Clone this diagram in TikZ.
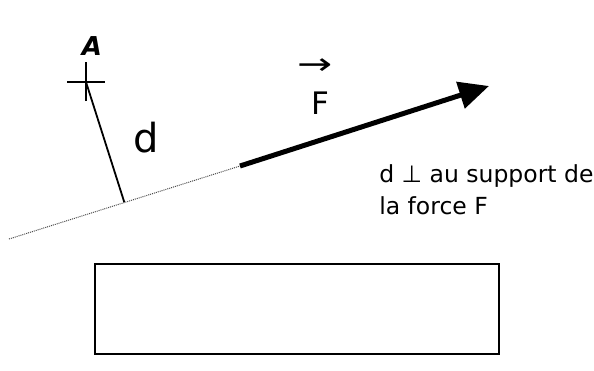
\documentclass[tikz,border=0pt]{standalone}
\usepackage{fontspec}
\setmainfont{DejaVu Sans}
\usetikzlibrary{arrows.meta,calc}

\begin{document}
\begin{tikzpicture}[x=1pt,y=-1pt,semithick]
		\tikzstyle{lab}=[inner sep=0pt,text=black]
		\tikzstyle{trait}=[line width=1.8pt]
		\tikzstyle{support}=[black!70,line width=1pt,dash pattern=on 1pt off 1pt]
		\tikzstyle{force}=[line width=5pt,-{Triangle[length=30pt,width=27pt]}]
		\useasboundingbox (0,0) rectangle (594,370);
		% points
		\coordinate (A) at (86,82);
		\coordinate (S) at (9,239);
		\coordinate (O) at (240,166);
		\coordinate (E) at (489,86);
		\coordinate (H) at ($(S)!(A)!(E)$);
		% labels
		\node[lab,font=\bfseries\itshape\fontsize{26}{26}\selectfont] (lA) at (92,46) {A};
		\node[lab,font=\fontsize{40}{40}\selectfont] (ld) at (146,138) {d};
		\node[lab,font=\fontsize{31}{31}\selectfont] (lF) at (320,103.5) {F};
		\node[lab,font=\fontsize{30}{30}\selectfont,xscale=1.4] (vF) at (315,67) {→};
		\node[lab,anchor=base west,font=\fontsize{23.5}{23.5}\selectfont] (t1) at (379,182) {d ⊥ au support de};
		\node[lab,anchor=base west,font=\fontsize{23.5}{23.5}\selectfont] (t2) at (379,214) {la force F};
		\node[draw,line width=2pt,minimum width=404pt,minimum height=90pt] (cadre) at (297,309) {};
		% drawing
		\draw[trait] ([xshift=-19pt]A) -- ([xshift=19pt]A);
		\draw[trait] ([yshift=-19pt]A) -- ([yshift=20pt]A);
		\draw[trait] (A) -- (H);
		\draw[support] (S) -- (O);
		\draw[force] (O) -- (E);
\end{tikzpicture}
\end{document}
